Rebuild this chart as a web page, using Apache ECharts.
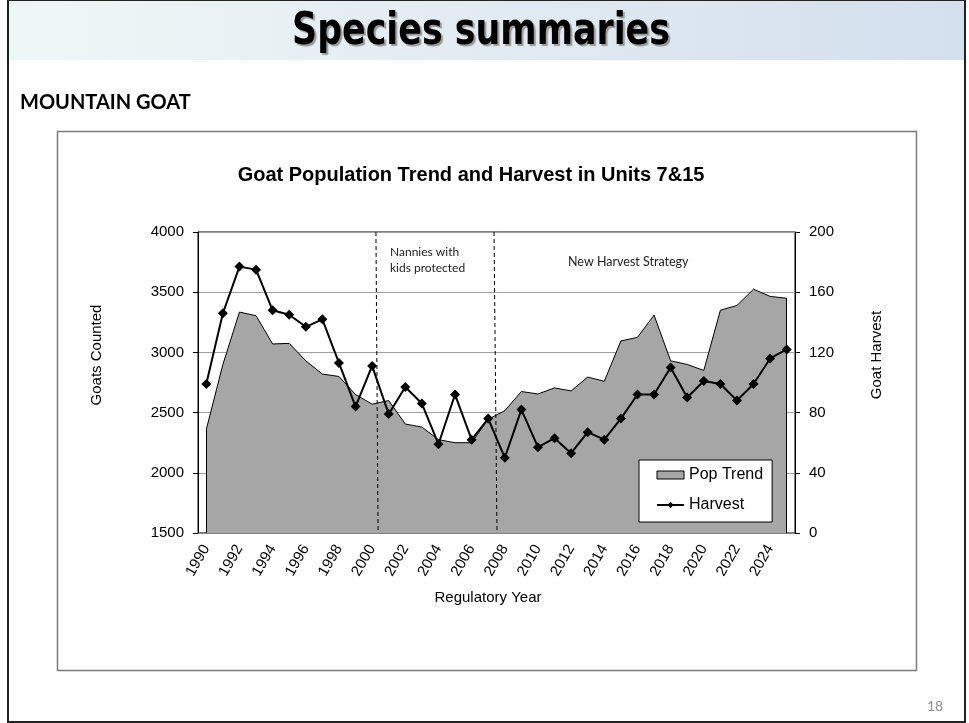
<!DOCTYPE html>
<html><head><meta charset="utf-8">
<script src="https://cdn.jsdelivr.net/npm/echarts@6/dist/echarts.min.js"></script>
<style>html,body{margin:0;padding:0;background:#fff}#c{width:969px;height:723px}</style>
</head><body><div id="c"></div>
<script>
// ---- data ----
const years = ["1990","1991","1992","1993","1994","1995","1996","1997","1998","1999",
  "2000","2001","2002","2003","2004","2005","2006","2007","2008","2009",
  "2010","2011","2012","2013","2014","2015","2016","2017","2018","2019",
  "2020","2021","2022","2023","2024","2025"];
const popTrend = [2360,2900,3335,3305,3070,3075,2930,2820,2800,2650,
  2570,2600,2405,2380,2275,2250,2250,2445,2515,2675,
  2655,2705,2680,2795,2760,3095,3125,3310,2930,2900,
  2850,3350,3390,3525,3465,3450];
const harvest = [99,146,177,175,148,145,137,142,113,84,
  111,79,97,86,59,92,62,76,50,82,
  57,63,53,67,62,76,92,92,110,90,
  101,99,88,99,116,122];
const leftTicks = [1500,2000,2500,3000,3500,4000];
const rightTicks = [0,40,80,120,160,200];
// divider positions in category units (top, bottom)
const nanniesLine = [10.73, 10.86];
const strategyLine = [17.85, 18.03];

const leftMin = leftTicks[0], leftMax = leftTicks[leftTicks.length-1], leftInt = leftTicks[1]-leftTicks[0];
const rightMin = rightTicks[0], rightMax = rightTicks[rightTicks.length-1], rightInt = rightTicks[1]-rightTicks[0];

const chart = echarts.init(document.getElementById('c'), null, {renderer:'canvas', width:969, height:723});
const dash = {type:[4,3], color:'#000', width:1};
const solid = {type:'solid', color:'#000', width:1};
const plain = v => String(v);
const option = {
  animation:false,
  textStyle:{fontFamily:'Arial, "Liberation Sans", sans-serif'},
  graphic:[
    {type:'rect', z:-20, shape:{x:8,y:0,width:957,height:722}, style:{fill:'#fff', stroke:'#222', lineWidth:2}},
    {type:'rect', z:-19, shape:{x:9,y:1,width:955,height:59},
      style:{fill:new echarts.graphic.LinearGradient(0,0,1,0,[{offset:0,color:'#eff7f6'},{offset:1,color:'#d4dfee'}])}},
    {type:'rect', z:-18, shape:{x:57.5,y:131.5,width:859,height:539}, style:{fill:'#fff', stroke:'#7a7a7a', lineWidth:1.5}},
    {type:'text', x:481, y:33, scaleX:0.88, style:{text:'Species summaries', font:'bold 44px "Liberation Sans Narrow", "DejaVu Sans Condensed", Arial', fill:'#000',
      align:'center', verticalAlign:'middle', textShadowColor:'#9a9a9a', textShadowOffsetX:2, textShadowOffsetY:2, textShadowBlur:1}},
    {type:'text', x:20, y:103, style:{text:'MOUNTAIN GOAT', font:'bold 20px Lato, "Open Sans", sans-serif', fill:'#000', align:'left', verticalAlign:'middle'}},
    {type:'text', x:471, y:175, style:{text:'Goat Population Trend and Harvest in Units 7&15', font:'bold 20px Arial, "Liberation Sans"', fill:'#000', align:'center', verticalAlign:'middle'}},
    {type:'text', x:97, y:355, rotation:Math.PI/2, style:{text:'Goats Counted', font:'15px Arial, "Liberation Sans"', fill:'#000', align:'center', verticalAlign:'middle'}},
    {type:'text', x:877, y:355, rotation:Math.PI/2, style:{text:'Goat Harvest', font:'15px Arial, "Liberation Sans"', fill:'#000', align:'center', verticalAlign:'middle'}},
    {type:'text', x:488, y:598, style:{text:'Regulatory Year', font:'15px Arial, "Liberation Sans"', fill:'#000', align:'center', verticalAlign:'middle'}},
    {type:'text', x:390, y:252, style:{text:'Nannies with', font:'12px Lato, "Open Sans", sans-serif', fill:'#222', align:'left', verticalAlign:'middle'}},
    {type:'text', x:390, y:268, style:{text:'kids protected', font:'12px Lato, "Open Sans", sans-serif', fill:'#222', align:'left', verticalAlign:'middle'}},
    {type:'text', x:568, y:262, style:{text:'New Harvest Strategy', font:'12.5px Lato, "Open Sans", sans-serif', fill:'#222', align:'left', verticalAlign:'middle'}},
    {type:'text', x:935, y:706, style:{text:'18', font:'14px Lato, "Open Sans", sans-serif', fill:'#8c8c8c', align:'center', verticalAlign:'middle'}}
  ],
  grid:{left:198, top:232, right:174, bottom:190, show:true, borderColor:'#000', borderWidth:1, backgroundColor:'transparent'},
  legend:{
    orient:'vertical', left:639, top:460, padding:[7,9,9,17], backgroundColor:'#fff', borderColor:'#000', borderWidth:1,
    itemWidth:27, itemHeight:8, itemGap:14, textStyle:{fontSize:16, color:'#000', fontFamily:'Arial, "Liberation Sans"'},
    data:[
      {name:'Pop Trend', icon:'rect', itemStyle:{color:'#a6a6a6', borderColor:'#000', borderWidth:1}},
      {name:'Harvest'}
    ]
  },
  xAxis:[
    {type:'category', data:years, boundaryGap:true,
     axisLine:{lineStyle:{color:'#808080'}}, axisTick:{interval:0, length:5, lineStyle:{color:'#808080'}},
     axisLabel:{interval:1, rotate:60, fontSize:15, color:'#000', margin:13}},
    {type:'value', min:0, max:years.length, show:false}
  ],
  yAxis:[
    {type:'value', min:leftMin, max:leftMax, interval:leftInt, position:'left',
     axisLine:{show:true, lineStyle:{color:'#000'}}, axisTick:{show:true, length:5, lineStyle:{color:'#000'}},
     axisLabel:{fontSize:15, color:'#000', margin:14, formatter:plain}, splitLine:{show:true, lineStyle:{color:'#a0a0a0', width:1}}},
    {type:'value', min:rightMin, max:rightMax, interval:rightInt, position:'right',
     axisLine:{show:true, lineStyle:{color:'#000'}}, axisTick:{show:true, length:5, lineStyle:{color:'#000'}},
     axisLabel:{fontSize:15, color:'#000', margin:14, formatter:plain}, splitLine:{show:false}}
  ],
  series:[
    {name:'Pop Trend', type:'line', xAxisIndex:0, yAxisIndex:0, data:popTrend, symbol:'none',
     lineStyle:{color:'#000', width:1}, itemStyle:{color:'#a6a6a6'},
     areaStyle:{color:'#a6a6a6', opacity:1, origin:'start'}, z:2},
    {name:'dividers', type:'line', xAxisIndex:1, yAxisIndex:0, data:[], silent:true, z:4,
     markLine:{silent:true, symbol:['none','none'], label:{show:false}, animation:false,
       data:[
         [{coord:[nanniesLine[0], leftMax], lineStyle:dash}, {coord:[nanniesLine[1], leftMin]}],
         [{coord:[strategyLine[0], leftMax], lineStyle:dash}, {coord:[strategyLine[1], leftMin]}],
         [{coord:[0.5, leftMin], lineStyle:solid}, {coord:[0.5, popTrend[0]]}],
         [{coord:[years.length-0.5, leftMin], lineStyle:solid}, {coord:[years.length-0.5, popTrend[popTrend.length-1]]}]
       ]}},
    {name:'Harvest', type:'line', xAxisIndex:0, yAxisIndex:1, data:harvest, symbol:'diamond', symbolSize:10,
     lineStyle:{color:'#000', width:2}, itemStyle:{color:'#000'}, z:5}
  ]
};
chart.setOption(option);
</script>
</body></html>
